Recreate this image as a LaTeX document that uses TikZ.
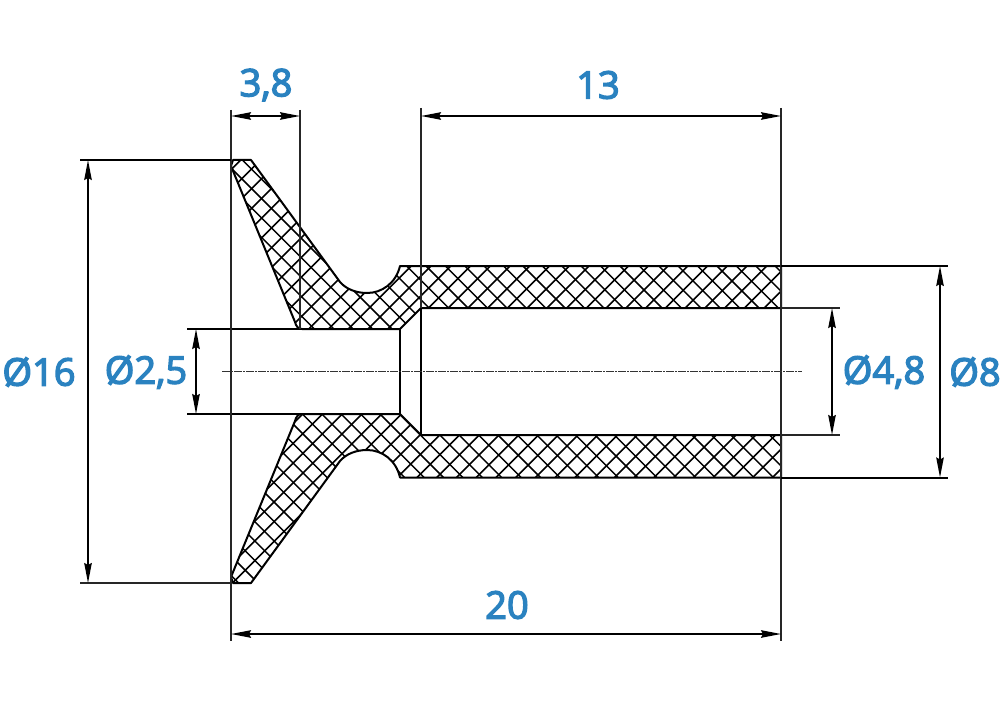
\documentclass[tikz,border=0pt]{standalone}
\usepackage{fontspec}
\setmainfont[FakeBold=3.5]{Open Sans}
\usetikzlibrary{arrows.meta}
\definecolor{dimblue}{HTML}{2A82C0}
\tikzset{
  outline/.style={line width=2pt,black},
  thinline/.style={line width=1.6pt,black!85},
  dimline/.style={line width=1.7pt,black,{Stealth[length=20pt,width=7.5pt,inset=2pt]}-{Stealth[length=20pt,width=7.5pt,inset=2pt]}},
  dimlabel/.style={text=dimblue,font=\fontsize{38}{38}\selectfont,inner sep=0pt,anchor=center},
  hatchline/.style={line width=1.45pt,black},
  axisline/.style={line width=1pt,black!80,dash pattern=on 8pt off 1pt on 2pt off 1pt}
}
\newcommand{\upperprofile}{(231,166) -- (233,160) -- (251,160) -- (340,282) .. controls (346,289) and (356,293) .. (367,293) .. controls (382,293) and (396,283) .. (400,266) -- (421,266) -- (781,266) -- (781,308) -- (421,308) -- (400,329) -- (302,329) .. controls (298,329) and (296,326) .. (295,322) -- cycle}
\newcommand{\lowerprofile}{(231,577) -- (233,583) -- (251,583) -- (340,461) .. controls (346,454) and (356,450) .. (367,450) .. controls (382,450) and (396,460) .. (400,477.5) -- (421,477.5) -- (781,477.5) -- (781,435) -- (421,435) -- (400,414) -- (302,414) .. controls (298,414) and (296,417) .. (295,421) -- cycle}
\newcommand{\hatchfill}{%
  \foreach \k in {-30,...,30}{
    \pgfmathsetmacro{\a}{160+19.4*\k}
    \draw[hatchline] ({\a+100},100) -- ({\a+660},660);
  }
  \foreach \k in {-20,...,55}{
    \pgfmathsetmacro{\a}{697+19.75*\k}
    \draw[hatchline] ({\a-100},100) -- ({\a-660},660);
  }
}
\begin{document}
\begin{tikzpicture}[x=1pt,y=-1pt]
\useasboundingbox (0,0) rectangle (1000,714);
\fill[white] (0,0) rectangle (1000,714);
\begin{scope}\clip \upperprofile; \hatchfill \end{scope}
\begin{scope}\clip \lowerprofile; \hatchfill \end{scope}
\draw[outline,line join=round] \upperprofile;
\draw[outline,line join=round] \lowerprofile;
% bore and steps
\draw[outline] (187,329) -- (400,329);
\draw[outline] (187,414) -- (400,414);
\draw[outline] (400,329) -- (400,414);
\draw[outline] (421,308) -- (421,435);
% extension lines
\draw[thinline] (231,110) -- (231,641);
\draw[thinline] (300,110) -- (300,329);
\draw[thinline] (421,108) -- (421,308);
\draw[thinline] (781,108) -- (781,641);
\draw[outline] (80,160) -- (231,160);
\draw[thinline] (80,583) -- (231,583);
\draw[outline] (781,266) -- (948,266);
\draw[outline] (781,477.5) -- (948,477.5);
\draw[thinline] (781,308) -- (840,308);
\draw[thinline] (781,435) -- (840,435);
% axis
\draw[axisline] (222,371.5) -- (802,371.5);
% dimension lines
\coordinate (d38a) at (231,116); \coordinate (d38b) at (300,116);
\coordinate (d13a) at (421,116); \coordinate (d13b) at (781,116);
\coordinate (d20a) at (231,634); \coordinate (d20b) at (781,634);
\coordinate (d16a) at (88,160);  \coordinate (d16b) at (88,583);
\coordinate (d25a) at (196,329); \coordinate (d25b) at (196,414);
\coordinate (d48a) at (832,308); \coordinate (d48b) at (832,435);
\coordinate (d8a) at (940,266);  \coordinate (d8b) at (940,477.5);
\draw[dimline] (d38a) -- (d38b);
\draw[dimline] (d13a) -- (d13b);
\draw[dimline] (d20a) -- (d20b);
\draw[dimline] (d16a) -- (d16b);
\draw[dimline] (d25a) -- (d25b);
\draw[dimline] (d48a) -- (d48b);
\draw[dimline] (d8a) -- (d8b);
% labels
\node[dimlabel] (l38) at (266,85) {3,8};
\node[dimlabel] (l13) at (598,85) {13};
\node[dimlabel] (l20) at (507,605) {20};
\node[dimlabel] (l16) at (39,372) {Ø16};
\node[dimlabel] (l25) at (146,372) {Ø2,5};
\node[dimlabel] (l48) at (884,372) {Ø4,8};
\node[dimlabel] (l8) at (975,372) {Ø8};
\end{tikzpicture}
\end{document}
